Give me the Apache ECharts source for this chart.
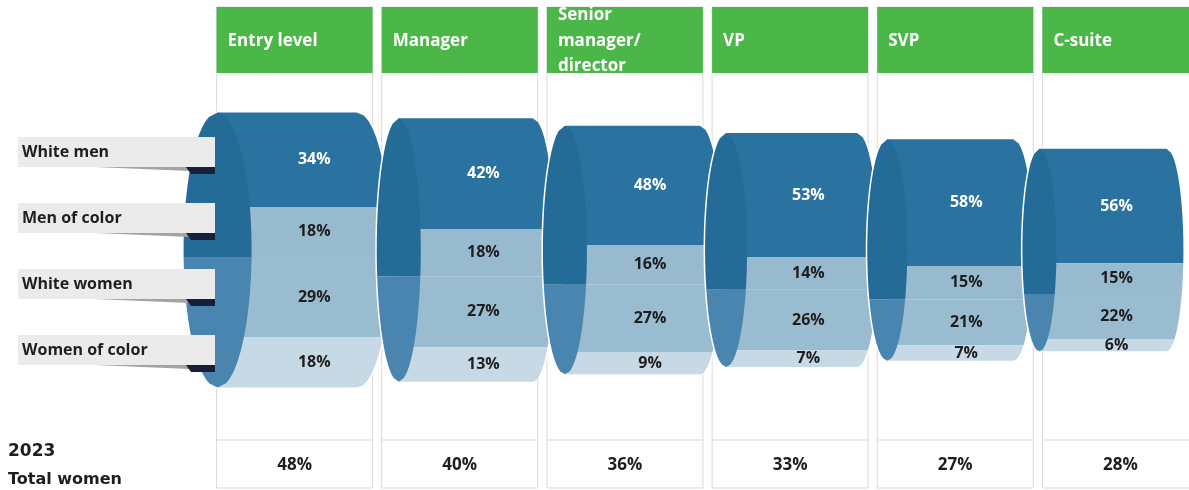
<!DOCTYPE html>
<html>
<head>
<meta charset="utf-8">
<title>Representation by level</title>
<script src="https://cdn.jsdelivr.net/npm/echarts@6/dist/echarts.min.js"></script>
<style>
  html, body { margin: 0; padding: 0; background: #fff; }
  #chart { width: 1189px; height: 490px; }
</style>
</head>
<body>
<div id="chart"></div>
<script>
const levels = ['Entry level', 'Manager', 'Senior\nmanager/\ndirector', 'VP', 'SVP', 'C-suite'];
const groups = ['White men', 'Men of color', 'White women', 'Women of color'];
const whiteMen = [34, 42, 48, 53, 58, 56];
const menOfColor = [18, 18, 16, 14, 15, 15];
const whiteWomen = [29, 27, 27, 26, 21, 22];
const womenOfColor = [18, 13, 9, 7, 7, 6];
const totalWomen = [48, 40, 36, 33, 27, 28];

const FONT = '"Open Sans", sans-serif';
const bodyColors = ['#2a73a0', '#98bacf', '#9abcd0', '#c6d9e5'];
const faceMen = '#256b98';
const faceWomen = '#4a85af';
const gridLine = '#d9d9d9';

// cylinder shape tweaks per column: front face offset from column centre, face radius, body length
const faceShift = [-77, -61, -60, -64, -68, -81];
const faceRx = [34, 22, 22, 21, 20, 17];
const bodyLen = [139, 134, 135, 131, 126, 127];

// points on the left (side -1) or right (side 1) half of an ellipse, from y0 to y1
function arcPts(cx, cy, rx, ry, y0, y1, side) {
  const pts = [];
  const n = 30;
  for (let k = 0; k <= n; k++) {
    const y = y0 + (y1 - y0) * k / n;
    const t = Math.max(-1, Math.min(1, (y - cy) / ry));
    pts.push([cx + side * rx * Math.sqrt(1 - t * t), y]);
  }
  return pts;
}

function renderFrame(params, api) {
  const i = params.dataIndex;
  const cx = api.coord([i, 0])[0];
  const w = 156;
  const left = cx - w / 2;
  return {
    type: 'group',
    children: [
      { type: 'rect', shape: { x: left, y: 7, width: w, height: 481 },
        style: { fill: 'none', stroke: gridLine, lineWidth: 1 } },
      { type: 'line', shape: { x1: left, y1: 440, x2: left + w, y2: 440 },
        style: { stroke: gridLine, lineWidth: 1 } },
      { type: 'rect', shape: { x: left, y: 7, width: w, height: 66 },
        style: { fill: '#4bb749' } },
      { type: 'text', style: {
          x: left + 11, y: 41, text: levels[i], fill: '#fff',
          font: 'bold 17px ' + FONT, lineHeight: 25.5,
          align: 'left', verticalAlign: 'middle' } },
      { type: 'text', style: {
          x: cx, y: 465, text: totalWomen[i] + '%', fill: '#1e1e1e',
          font: 'bold 17px ' + FONT, align: 'center', verticalAlign: 'middle' } }
    ]
  };
}

function renderCylinder(params, api) {
  const i = params.dataIndex;
  const vals = [whiteMen[i], menOfColor[i], whiteWomen[i], womenOfColor[i]];
  const total = vals.reduce((a, b) => a + b, 0);
  const s = 1 - 0.053 * i; // funnel taper
  const cx = api.coord([i, 50])[0];
  const yAt = v => api.coord([i, 50 + (v - total / 2) * s])[1];

  const bounds = [yAt(0)];
  let cum = 0;
  vals.forEach(v => { cum += v; bounds.push(yAt(cum)); });
  const top = bounds[0], bot = bounds[4];
  const cy = (top + bot) / 2, ry = (bot - top) / 2;
  const rx = faceRx[i];
  const fx = cx + faceShift[i];
  const bx = fx + bodyLen[i];

  const children = [];
  const outline = arcPts(fx, cy, rx, ry, bot, top, -1).concat(arcPts(bx, cy, rx, ry, top, bot, 1));
  children.push({ type: 'polygon', shape: { points: outline },
    style: { fill: '#fff', stroke: '#fff', lineWidth: 3 } });

  for (let k = 0; k < 4; k++) {
    const y0 = bounds[k], y1 = bounds[k + 1];
    const pts = [[fx, y0]].concat(arcPts(bx, cy, rx, ry, y0, y1, 1), [[fx, y1]]);
    children.push({ type: 'polygon', shape: { points: pts }, style: { fill: bodyColors[k] } });
  }

  // front face: men on top, women below
  const faceSlice = (y0, y1, fill) => ({
    type: 'polygon',
    shape: { points: arcPts(fx, cy, rx, ry, y0, y1, 1).concat(arcPts(fx, cy, rx, ry, y1, y0, -1)) },
    style: { fill: fill }
  });
  children.push(faceSlice(top, bounds[2], faceMen), faceSlice(bounds[2], bot, faceWomen));

  const lx = (fx + bx) / 2 + 0.8 * rx;
  for (let k = 0; k < 4; k++) {
    children.push({ type: 'text', style: {
      x: lx, y: (bounds[k] + bounds[k + 1]) / 2, text: vals[k] + '%',
      fill: k === 0 ? '#ffffff' : '#1e1e1e', font: 'bold 16px ' + FONT,
      align: 'center', verticalAlign: 'middle' } });
  }
  return { type: 'group', children: children };
}

// legend callouts on the left
const callouts = [];
groups.forEach((name, k) => {
  const top = 137 + k * 66;
  callouts.push(
    { type: 'polygon', z: 100, shape: { points: [[95, top + 30], [190, top + 30], [190, top + 34]] },
      style: { fill: '#a3a3a3' } },
    { type: 'polygon', z: 101, shape: { points: [[186, top + 30], [215, top + 30], [215, top + 37], [191, top + 37]] },
      style: { fill: '#17203a' } },
    { type: 'rect', z: 102, shape: { x: 18, y: top, width: 197, height: 30 },
      style: { fill: '#ebebeb' } },
    { type: 'text', z: 103, style: { x: 22, y: top + 15, text: name, fill: '#1e1e1e',
      font: 'bold 16px ' + FONT, align: 'left', verticalAlign: 'middle' } }
  );
});
callouts.push(
  { type: 'text', z: 103, style: { x: 8, y: 452, text: '2023', fill: '#1e1e1e',
    font: 'bold 17px "DejaVu Sans", sans-serif', align: 'left', verticalAlign: 'middle' } },
  { type: 'text', z: 103, style: { x: 8, y: 480, text: 'Total women', fill: '#1e1e1e',
    font: 'bold 16px "DejaVu Sans", sans-serif', align: 'left', verticalAlign: 'middle' } }
);

const chart = echarts.init(document.getElementById('chart'));
chart.setOption({
  animation: false,
  backgroundColor: '#ffffff',
  grid: { left: 212, top: 111, width: 991, height: 278, outerBoundsMode: 'none', containLabel: false },
  xAxis: { type: 'category', data: levels, show: false },
  yAxis: { type: 'value', min: 0, max: 100, inverse: true, show: false },
  graphic: callouts,
  series: [
    {
      type: 'custom', name: 'frame', z: 1, clip: false,
      renderItem: renderFrame,
      data: levels.map((l, i) => [i, 0])
    },
    {
      type: 'custom', name: 'cylinders', z: 5, clip: false,
      renderItem: renderCylinder,
      data: levels.map((l, i) => [i, whiteMen[i]])
    }
  ]
});
</script>
</body>
</html>
